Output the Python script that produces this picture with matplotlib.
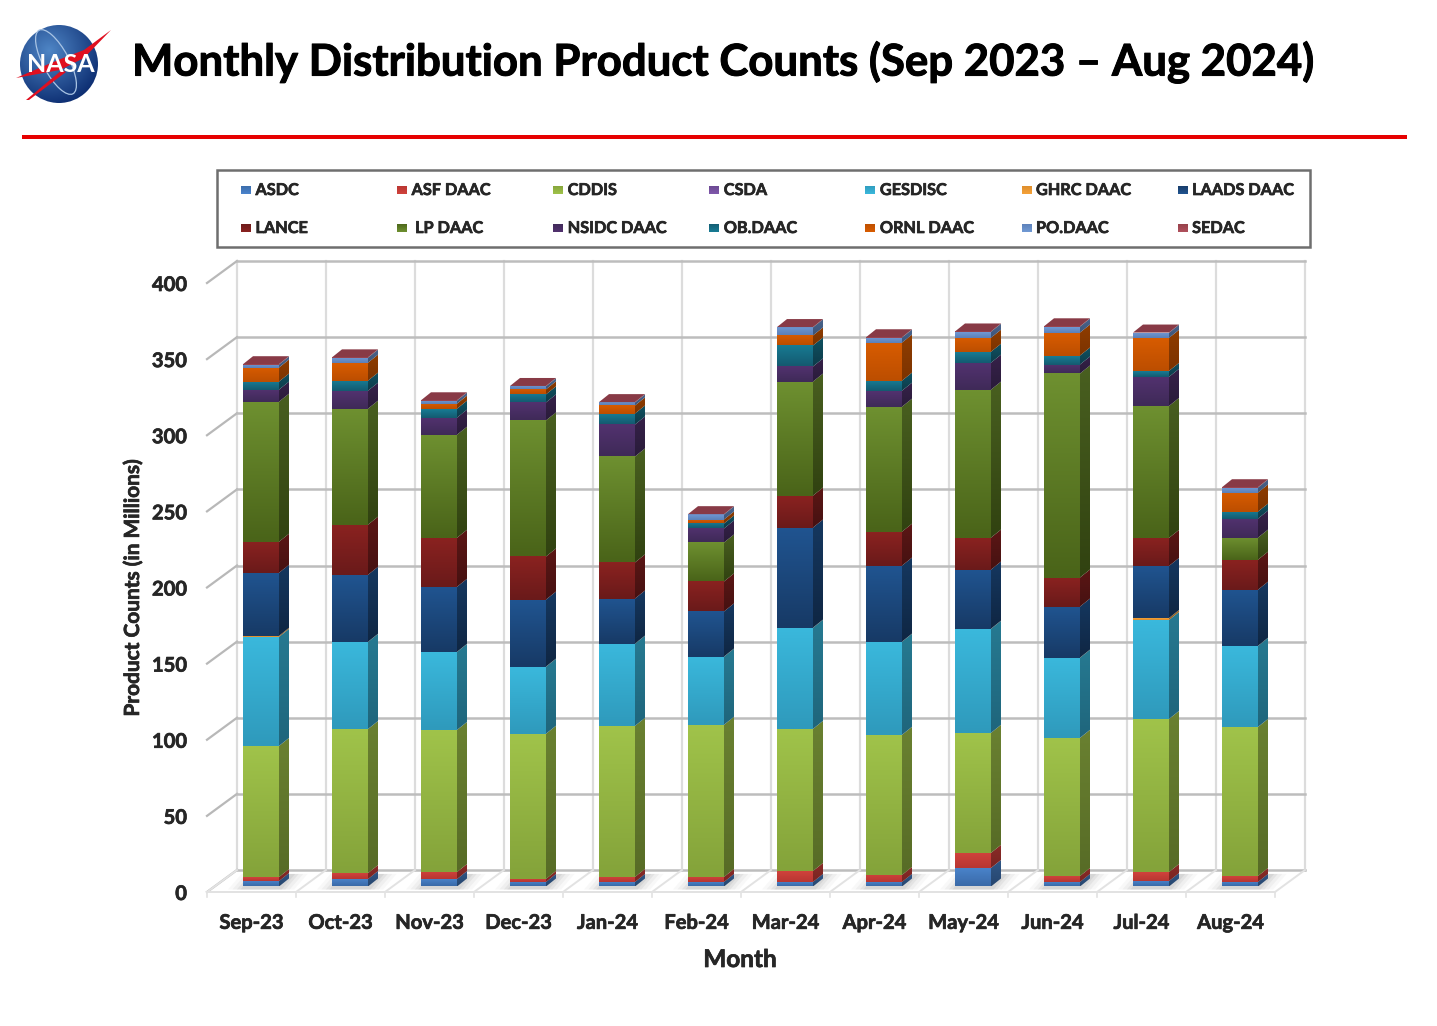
import numpy as np
import matplotlib
matplotlib.use('Agg')
import matplotlib.pyplot as plt
import matplotlib.patheffects as pe
from matplotlib.patches import Polygon, Rectangle, Circle, Ellipse
from matplotlib.colors import to_rgb

plt.rcParams['font.family'] = ['Lato', 'DejaVu Sans']

months = ['Sep-23', 'Oct-23', 'Nov-23', 'Dec-23', 'Jan-24', 'Feb-24',
          'Mar-24', 'Apr-24', 'May-24', 'Jun-24', 'Jul-24', 'Aug-24']
yticks = [0, 50, 100, 150, 200, 250, 300, 350, 400]

asdc = [3.6, 4.9, 4.9, 3.0, 3.0, 3.0, 3.0, 3.0, 12.2, 3.0, 3.6, 3.0]
asf = [2.6, 3.9, 4.6, 2.0, 3.3, 3.3, 7.2, 4.6, 9.9, 3.9, 5.9, 3.9]
cddis = [86.1, 94.6, 93.3, 95.3, 99.2, 99.9, 93.3, 92.0, 78.8, 90.7, 100.5, 97.9]
csda = [0.05, 0.05, 0.05, 0.05, 0.05, 0.05, 0.05, 0.05, 0.05, 0.05, 0.05, 0.05]
gesdisc = [71.6, 57.2, 51.2, 44.0, 53.9, 44.7, 66.4, 61.1, 68.3, 52.6, 65.0, 53.2]
ghrc = [0.7, 0.1, 0.1, 0.1, 0.1, 0.1, 0.1, 0.1, 0.1, 0.1, 1.3, 0.1]
laads = [41.4, 44.0, 42.7, 44.0, 29.6, 29.6, 65.7, 49.9, 38.8, 33.5, 34.2, 36.8]
lance = [20.4, 32.9, 32.2, 28.3, 23.7, 19.7, 21.0, 22.3, 21.0, 19.1, 18.4, 19.7]
lp = [92.0, 76.2, 67.7, 89.4, 69.6, 25.6, 74.9, 82.1, 97.2, 134.0, 86.7, 14.5]
nsidc = [7.9, 11.8, 11.2, 11.8, 21.0, 9.2, 9.9, 10.5, 17.7, 5.9, 19.1, 12.5]
ob = [5.3, 6.6, 5.9, 5.3, 7.2, 3.3, 13.8, 6.6, 7.2, 5.9, 3.9, 4.6]
ornl = [9.2, 11.8, 3.3, 3.3, 5.3, 2.6, 6.6, 25.0, 9.2, 15.1, 21.7, 12.5]
podaac = [2.0, 3.3, 2.0, 2.0, 2.0, 3.3, 5.3, 3.3, 3.9, 3.9, 3.3, 3.3]
sedac = [0.2, 0.2, 0.2, 0.2, 0.2, 0.2, 0.2, 0.2, 0.2, 0.2, 0.2, 0.2]

names = ['ASDC', 'ASF DAAC', 'CDDIS', 'CSDA', 'GESDISC', 'GHRC DAAC', 'LAADS DAAC',
         'LANCE', 'LP DAAC', 'NSIDC DAAC', 'OB.DAAC', 'ORNL DAAC', 'PO.DAAC', 'SEDAC']
series = [asdc, asf, cddis, csda, gesdisc, ghrc, laads, lance, lp, nsidc, ob, ornl, podaac, sedac]
# colour at top and bottom of each front face
tops = ['#4a84cc', '#d0423c', '#a0c34a', '#8058ac', '#3ab8dc', '#f5a238', '#205490',
        '#8a2220', '#6e9030', '#52326f', '#187c94', '#d85c00', '#7099d4', '#b0505c']
bots = ['#3a6aa8', '#b83632', '#84a33a', '#6a4890', '#2f9abc', '#dc8c2c', '#173a66',
        '#6a1a1a', '#4a6419', '#3f2a58', '#145a70', '#bc4e00', '#5c80b8', '#94404a']

W, H = 1437, 1026
fig = plt.figure(figsize=(W / 100, H / 100), dpi=100, facecolor='white')
thick = [pe.withStroke(linewidth=0.5, foreground='#262626')]

# overlay in pixel coordinates for header and legend
bg = fig.add_axes([0, 0, 1, 1])
bg.set_xlim(0, W)
bg.set_ylim(H, 0)
bg.axis('off')

ax = fig.add_axes([207 / W, 1 - 892 / H, (1275 - 207) / W, (892 - 283) / H])
ax.patch.set_alpha(0)
ax.set_xlim(-0.5, 11.5)
ax.set_ylim(0, 400)
for s in ax.spines.values():
    s.set_visible(False)

PX = 12.0 / (1275 - 207)   # data x per pixel
PY = 400.0 / (892 - 283)   # data y per pixel
wall_dx, wall_dy = 30 * PX, 22 * PY
bar_dx, bar_dy = 10 * PX, 8 * PY
bar_left, bar_w = -8.5 * PX, 36 * PX
base = 5.5 * PY


def shade(c, f):
    return tuple(v * f for v in to_rgb(c))


def grad_poly(a, verts, c_top, c_bot, z):
    # vertical gradient clipped to a polygon
    verts = np.array(verts)
    c_top, c_bot = np.array(to_rgb(c_top)), np.array(to_rgb(c_bot))
    t = np.linspace(0, 1, 32)[:, None, None]
    img = c_top[None, None, :] * (1 - t) + c_bot[None, None, :] * t
    ext = [verts[:, 0].min(), verts[:, 0].max(), verts[:, 1].min(), verts[:, 1].max()]
    if ext[3] - ext[2] < 1e-6:
        return
    im = a.imshow(img, extent=ext, origin='upper', aspect='auto', zorder=z, interpolation='bilinear')
    p = Polygon(verts, transform=a.transData, fc='none', ec='none')
    a.add_patch(p)
    im.set_clip_path(p)


# back wall and floor
x_left, x_right = -0.5, 11.5
for v in yticks:
    ax.plot([x_left, x_left + wall_dx], [v, v + wall_dy], color='#b8b8b8', lw=1.6, zorder=1, clip_on=False)
    ax.plot([x_left + wall_dx, x_right + wall_dx], [v + wall_dy, v + wall_dy], color='#bdbdbd', lw=1.8,
            zorder=1, clip_on=False)
for k in range(13):
    xk = x_left + k
    ax.plot([xk + wall_dx, xk + wall_dx], [wall_dy, 400 + wall_dy], color='#dcdcdc', lw=1.6, zorder=0.9, clip_on=False)
    ax.plot([xk, xk + wall_dx], [0, wall_dy], color='#e2e2e2', lw=1.4, zorder=1, clip_on=False)
    ax.plot([xk, xk], [0, -3], color='#e2e2e2', lw=1.2, zorder=1, clip_on=False)
ax.plot([x_left, x_right], [0, 0], color='#e2e2e2', lw=1.4, zorder=1, clip_on=False)

# soft shadow on the floor around the bars
for i in range(len(months)):
    xa = i + bar_left
    for grow, al in [(0.17, 0.05), (0.12, 0.07), (0.07, 0.10), (0.03, 0.12)]:
        ax.add_patch(Polygon([(xa - grow, base - 2), (xa + bar_w + grow, base - 2),
                              (xa + bar_w + grow + bar_dx + 0.04, base + bar_dy + 3),
                              (xa - grow + bar_dx + 0.04, base + bar_dy + 3)],
                             fc='#808080', ec='none', alpha=al, zorder=1.5, clip_on=False))

# stacked bars with a front, side and top face
for i in range(len(months)):
    x0 = i + bar_left
    x1 = x0 + bar_w
    y = base
    for j, vals in enumerate(series):
        y2 = y + vals[i]
        z = 3 + j * 0.1
        grad_poly(ax, [(x0, y), (x1, y), (x1, y2), (x0, y2)], tops[j], bots[j], z + 0.05)
        grad_poly(ax, [(x1, y), (x1 + bar_dx, y + bar_dy), (x1 + bar_dx, y2 + bar_dy), (x1, y2)],
                  shade(tops[j], 0.66), shade(bots[j], 0.66), z)
        y = y2
    ax.add_patch(Polygon([(x0, y), (x1, y), (x1 + bar_dx, y + bar_dy), (x0 + bar_dx, y + bar_dy)],
                         fc='#883a46', ec='none', zorder=6, clip_on=False))
ax.set_xlim(-0.5, 11.5)
ax.set_ylim(0, 400)

ax.set_yticks(yticks)
ax.set_yticklabels([str(v) for v in yticks], fontsize=14.5, fontweight='bold', color='#262626', path_effects=thick)
ax.set_xticks(range(len(months)))
ax.set_xticklabels(months, fontsize=14.5, fontweight='bold', color='#262626', path_effects=thick)
ax.tick_params(axis='both', length=0)
ax.tick_params(axis='y', pad=14.5)
ax.tick_params(axis='x', pad=15)
ax.set_xlabel('Month', fontsize=17.5, fontweight='bold', color='#262626', path_effects=thick)
ax.set_ylabel('Product Counts (in Millions)', fontsize=15, fontweight='bold', color='#262626', path_effects=thick)
ax.yaxis.set_label_coords(-64 / (1275 - 207), 0.50)
ax.xaxis.set_label_coords((740 - 207) / (1275 - 207), -(948 - 892) / (892 - 283))

# header
bg.text(132, 62, 'Monthly Distribution Product Counts (Sep 2023 \u2013 Aug 2024)', fontsize=31.5,
        fontweight='bold', color='black', va='center', ha='left',
        path_effects=[pe.withStroke(linewidth=0.7, foreground='black')])
bg.add_patch(Rectangle((22, 135), 1385, 4, fc='#e60000', ec='none'))

# legend box
bg.add_patch(Rectangle((216.5, 170), 1093, 77, fc='white', ec='#6e6e6e', lw=1.8))
for j, name in enumerate(names):
    col = j % 7
    row = j // 7
    mx = 241 + col * 156.1
    my = [190, 228][row]
    grad_poly(bg, [(mx, my - 4.5), (mx + 10, my - 4.5), (mx + 10, my + 4.5), (mx, my + 4.5)], tops[j], bots[j], 3)
    off = 18 if name == 'LP DAAC' else 14.5
    bg.text(mx + off, my + 1, name, fontsize=11.7, fontweight='bold', color='#262626', va='center', ha='left',
            path_effects=thick)
bg.set_xlim(0, W)
bg.set_ylim(H, 0)

# NASA logo
cx, cy, r = 59, 64, 39
yy, xx = np.mgrid[-1:1:120j, -1:1:120j]
dist = np.sqrt((xx + 0.25) ** 2 + (yy + 0.35) ** 2)
t = np.clip(dist / 1.5, 0, 1)[:, :, None]
ball = np.array(to_rgb('#4f86c6')) * (1 - t) + np.array(to_rgb('#0a2a6e')) * t
im = bg.imshow(ball, extent=[cx - r, cx + r, cy + r, cy - r], aspect='auto', zorder=4, interpolation='bilinear')
clip = Circle((cx, cy), r, transform=bg.transData, fc='none', ec='none')
bg.add_patch(clip)
im.set_clip_path(clip)
bg.add_patch(Ellipse((56, 62), 26, 72, angle=-28, fc='none', ec='#a9c4e4', lw=0.9, zorder=4.5))
bg.add_patch(Polygon([(111, 30), (84, 58), (60, 70), (16, 78), (58, 60), (84, 50)],
                     fc='#e01020', ec='none', zorder=5))
bg.add_patch(Polygon([(26, 100), (62, 70), (66, 72), (29, 100)], fc='#e01020', ec='none', zorder=5))
bg.text(61, 65, 'NASA', fontsize=18, fontweight='bold', color='white', ha='center', va='center', zorder=6)
bg.set_xlim(0, W)
bg.set_ylim(H, 0)

fig.savefig('out.png', dpi=100)
